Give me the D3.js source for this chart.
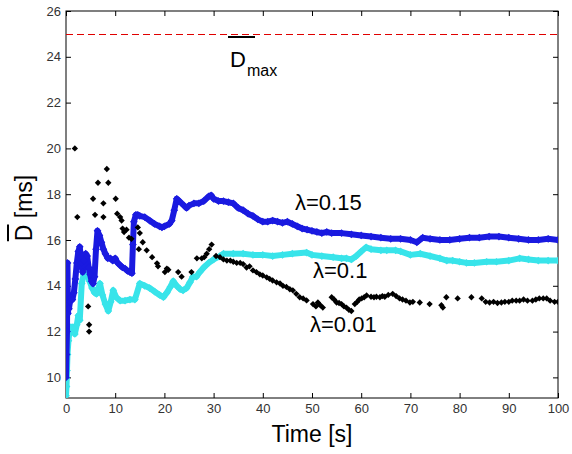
<!DOCTYPE html>
<html>
<head>
<meta charset="utf-8">
<script src="https://cdn.jsdelivr.net/npm/d3@7"></script>
<style>
  body { margin: 0; background: #fff; }
  text { font-family: "Liberation Sans", Arial, sans-serif; }
</style>
</head>
<body>
<div id="chart"></div>
<script>
// values, [time (s), mean delay (ms)]
const lambda015 = [[0,10.0],[0.1,11.0],[0.2,12.0],[0.3,15.0],[0.4,12.8],[0.5,13.2],[0.6,13.0],[0.8,13.3],[1.0,13.5],[1.3,13.4],[1.6,13.7],[1.9,14.3],[2.2,15.0],[2.5,15.5],[2.8,15.7],[3.1,15.0],[3.4,14.6],[3.7,15.1],[4.0,15.4],[4.3,15.3],[4.6,14.8],[4.9,14.5],[5.2,14.2],[5.5,14.1],[5.8,14.4],[6.1,15.6],[6.4,16.4],[6.8,16.2],[7.2,15.9],[7.6,15.6],[8.0,15.4],[8.5,15.2],[9.0,15.2],[9.5,15.1],[10,15.2],[10.5,15.0],[11,14.9],[11.5,14.8],[12,14.75],[12.5,14.65],[13,14.6],[13.4,14.55],[13.6,15.8],[13.8,16.8],[14.2,17.1],[14.6,17.1],[15,17.05],[16,17.0],[17,16.85],[18,16.7],[19,16.6],[19.5,16.55],[20,16.6],[21,16.7],[21.5,16.85],[22,17.3],[22.5,17.8],[23,17.7],[24,17.5],[24.5,17.4],[25,17.5],[26,17.6],[27,17.6],[28,17.7],[29,17.9],[29.5,17.95],[30,17.8],[31,17.7],[32,17.7],[33,17.65],[34,17.6],[35,17.4],[36,17.3],[37,17.15],[38,17.05],[39,16.9],[40,16.8],[41,16.8],[42,16.85],[43,16.8],[44,16.75],[45,16.8],[46,16.7],[47,16.6],[48,16.5],[49,16.45],[50,16.4],[51,16.35],[52,16.3],[53,16.35],[54,16.3],[56,16.3],[58,16.25],[60,16.2],[62,16.15],[64,16.1],[66,16.05],[68,16.05],[70,16.0],[71.3,15.9],[72.5,16.1],[74,16.05],[76,16.0],[78,16.0],[80,16.05],[82,16.1],[84,16.1],[86,16.15],[88,16.15],[90,16.1],[92,16.05],[94,16.0],[96,16.0],[98,16.05],[100,16.0]];

const lambda01 = [[0,9.2],[0.1,9.6],[0.2,10.3],[0.3,11.0],[0.5,11.6],[0.7,12.0],[1.0,12.2],[1.4,12.2],[1.8,11.9],[2.2,12.3],[2.5,12.7],[2.8,12.5],[3.2,14.1],[3.6,14.5],[3.9,14.7],[4.3,14.5],[4.8,14.2],[5.3,13.9],[5.8,13.7],[6.2,13.65],[6.6,13.9],[6.9,14.1],[7.4,13.6],[8.0,13.2],[8.6,12.9],[9.1,13.3],[9.6,13.8],[10.2,13.5],[11,13.35],[12,13.35],[13,13.4],[14,13.4],[15,14.1],[16,14.0],[17,13.9],[18,13.75],[19,13.6],[19.8,13.5],[20.5,13.7],[21.2,13.95],[21.8,14.2],[22.5,14.0],[23.2,13.85],[23.8,13.8],[24.5,13.9],[25.2,14.15],[25.8,14.4],[26.5,14.4],[27.2,14.6],[28,14.8],[29,15.0],[30,15.15],[31.3,15.3],[32,15.4],[34,15.4],[36,15.4],[38,15.35],[40,15.35],[42,15.3],[44,15.35],[46,15.4],[48.9,15.45],[50,15.35],[52,15.3],[54.3,15.25],[56,15.2],[57,15.2],[58,15.15],[59,15.3],[60,15.5],[61,15.68],[62,15.6],[64,15.55],[65.2,15.55],[67,15.55],[68,15.5],[70,15.35],[72,15.4],[74,15.3],[76,15.2],[77.4,15.1],[78.6,15.1],[80,15.05],[81.4,15.0],[83,15.0],[85.5,15.05],[87.5,15.05],[90,15.1],[92.2,15.2],[94,15.15],[96,15.1],[98,15.1],[100,15.1]];

const lambda001 = [[1.8,20.0],[2.3,17.0],[4.5,13.1],[4.7,12.3],[4.7,12.0],[5.5,17.8],[5.9,17.1],[6.5,18.5],[7.6,17.6],[7.6,17.0],[8.3,19.1],[8.6,18.5],[10.1,17.8],[10.4,17.15],[11.0,17.0],[11.3,16.85],[11.5,16.5],[11.8,16.35],[12.3,16.45],[12.8,16.1],[13.3,16.05],[14.6,16.55],[14.8,15.6],[15.0,16.3],[15.6,15.9],[16.4,15.55],[17.5,15.25],[18.5,14.98],[18.7,14.85],[20.1,14.6],[20.5,14.75],[20.8,14.7],[22.8,14.6],[23.5,14.4],[25.5,14.6],[26.6,15.2],[27.6,15.2],[28.1,15.25],[28.6,15.4],[29.1,15.6],[29.6,15.8],[30.5,15.3],[31.3,15.25],[32.0,15.15],[32.7,15.1],[33.4,15.1],[34.0,15.05],[34.7,15.0],[35.4,15.0],[36.0,14.95],[36.7,14.8],[37.3,14.85],[38.0,14.67],[38.7,14.6],[39.4,14.5],[40.0,14.45],[40.8,14.37],[41.4,14.3],[42.0,14.23],[42.8,14.15],[43.5,14.1],[44.1,14.0],[44.8,13.95],[45.5,13.85],[46.1,13.8],[46.8,13.65],[47.5,13.5],[48.2,13.45],[48.9,13.36],[50.2,13.2],[50.8,13.1],[51.2,13.27],[51.7,13.15],[52.2,13.05],[54.0,13.5],[54.5,13.4],[55.0,13.27],[55.5,13.25],[56.0,13.2],[56.5,13.1],[57.0,13.05],[57.5,12.95],[58.0,12.9],[58.7,13.2],[59.2,13.3],[59.6,13.4],[60.1,13.45],[60.6,13.5],[61.1,13.58],[62.0,13.52],[62.6,13.5],[63.1,13.52],[63.8,13.5],[64.3,13.55],[64.8,13.52],[65.5,13.6],[66.4,13.65],[67.1,13.55],[67.8,13.45],[68.4,13.4],[69.1,13.35],[69.9,13.27],[70.5,13.3],[71.9,13.27],[73.9,13.2],[76.3,13.15],[76.6,13.05],[77.3,13.5],[79.6,13.45],[82.4,13.5],[84.5,13.45],[85.3,13.3],[86.1,13.27],[86.9,13.3],[87.7,13.25],[88.5,13.27],[89.2,13.3],[90.0,13.3],[90.7,13.35],[91.5,13.35],[92.2,13.35],[93.0,13.4],[93.8,13.35],[94.8,13.35],[95.5,13.4],[96.2,13.45],[97.0,13.45],[97.7,13.45],[98.4,13.35],[99.3,13.3],[100,13.3]];

const dMax = 25;
const xTicks = [0,10,20,30,40,50,60,70,80,90,100];
const yTicks = [10,12,14,16,18,20,22,24,26];
const seriesLabels = ["λ=0.15", "λ=0.1", "λ=0.01"];

var W = 572, H = 454;
var mLeft = 66, mRight = 558, mTop = 11, mBottom = 398;

var svg = d3.select('#chart').append('svg')
  .attr('width', W).attr('height', H);

var x = d3.scaleLinear().domain([0, 100]).range([mLeft, mRight]);
var y = d3.scaleLinear().domain([9.1, 26]).range([mBottom, mTop]);

svg.append('defs').append('clipPath').attr('id', 'plotclip')
  .append('rect').attr('x', mLeft).attr('y', mTop)
  .attr('width', mRight - mLeft).attr('height', mBottom - mTop);

// axes with inward ticks on all four sides (matlab box)
function styleAxis(g) {
  g.select('.domain').remove();
  g.selectAll('.tick line').attr('stroke', '#000');
  g.selectAll('.tick text').attr('fill', '#333')
    .style('font-size', '13px');
}
svg.append('g').attr('transform', `translate(0,${mBottom})`)
  .call(d3.axisBottom(x).tickValues(xTicks).tickSize(-5).tickPadding(6))
  .call(styleAxis);
svg.append('g').attr('transform', `translate(0,${mTop})`)
  .call(d3.axisTop(x).tickValues(xTicks).tickSize(-5).tickFormat(''))
  .call(styleAxis);
svg.append('g').attr('transform', `translate(${mLeft},0)`)
  .call(d3.axisLeft(y).tickValues(yTicks).tickSize(-5).tickPadding(5))
  .call(styleAxis);
svg.append('g').attr('transform', `translate(${mRight},0)`)
  .call(d3.axisRight(y).tickValues(yTicks).tickSize(-5).tickFormat(''))
  .call(styleAxis);

svg.append('rect').attr('x', mLeft).attr('y', mTop)
  .attr('width', mRight - mLeft).attr('height', mBottom - mTop)
  .attr('fill', 'none').attr('stroke', '#000').attr('stroke-width', 1);

var plot = svg.append('g').attr('clip-path', 'url(#plotclip)');

// D max
plot.append('line')
  .attr('x1', x(0)).attr('x2', x(100))
  .attr('y1', Math.round(y(dMax)) + 0.5).attr('y2', Math.round(y(dMax)) + 0.5)
  .attr('stroke', '#e00000').attr('stroke-width', 1)
  .attr('stroke-dasharray', '7,4');

var line = d3.line().x(d => x(d[0])).y(d => y(d[1]));
var marker = d3.symbol().type(d3.symbolSquare);

function band(data, color) {
  plot.append('path').datum(data)
    .attr('d', line)
    .attr('fill', 'none').attr('stroke', color)
    .attr('stroke-width', 6).attr('stroke-linejoin', 'round');
  plot.append('g').selectAll('path').data(data).join('path')
    .attr('d', marker.size(30))
    .attr('transform', d => `translate(${x(d[0])},${y(d[1])}) rotate(45)`)
    .attr('fill', color);
}
band(lambda01, '#38e4ea');
band(lambda015, '#1a1ae0');

plot.append('g').selectAll('path').data(lambda001).join('path')
  .attr('d', marker.size(20))
  .attr('transform', d => `translate(${x(d[0])},${y(d[1])}) rotate(45)`)
  .attr('fill', '#000');

// series labels
var labelPos = [[295, 210], [313, 278], [310, 332]];
seriesLabels.forEach(function (s, i) {
  svg.append('text').attr('x', labelPos[i][0]).attr('y', labelPos[i][1])
    .style('font-size', '22px').attr('fill', '#000').text(s);
});

// D max label
svg.append('text').attr('x', 230).attr('y', 67)
  .style('font-size', '22px').text('D');
svg.append('text').attr('x', 247).attr('y', 76)
  .style('font-size', '16px').text('max');
svg.append('line').attr('x1', 228).attr('x2', 255)
  .attr('y1', 37).attr('y2', 37)
  .attr('stroke', '#000').attr('stroke-width', 2);

// axis titles
svg.append('text').attr('x', 312).attr('y', 442)
  .attr('text-anchor', 'middle').style('font-size', '23px').text('Time [s]');

var yl = svg.append('g').attr('transform', 'translate(32,208) rotate(-90)');
var ylt = yl.append('text').attr('text-anchor', 'middle')
  .style('font-size', '23px').text('D [ms]');
var full = ylt.node().getComputedTextLength();
var dW = ylt.node().getSubStringLength(0, 1);
yl.append('line')
  .attr('x1', -full / 2).attr('x2', -full / 2 + dW)
  .attr('y1', -24).attr('y2', -24)
  .attr('stroke', '#000').attr('stroke-width', 2);
</script>
</body>
</html>
